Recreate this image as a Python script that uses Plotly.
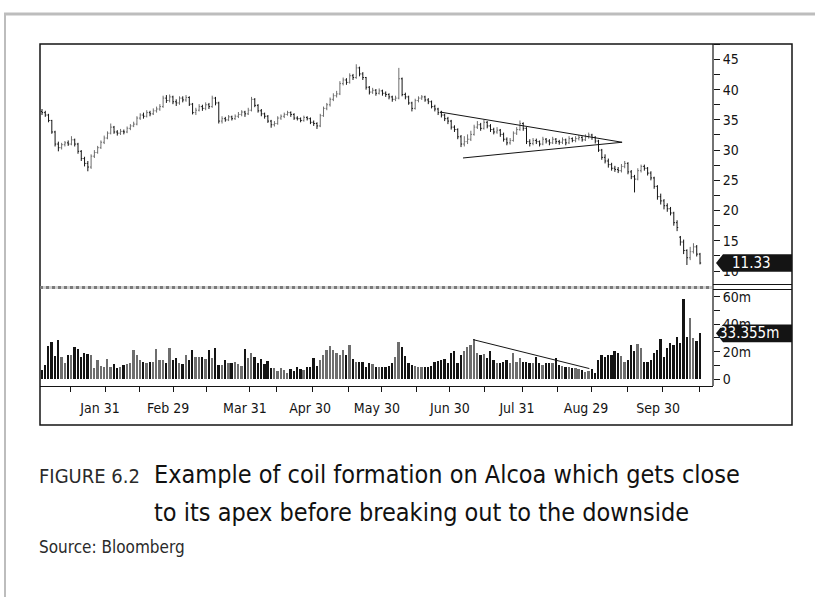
import plotly.graph_objects as go

# ---------------------------------------------------------------- data
# Daily bars, Alcoa (AA), first trading day of January to mid-October 2008
open_ = [36.4, 36.2, 35.8, 34.9, 33.0, 31.0, 30.4, 30.9, 31.2, 31.0,
         31.7, 31.0, 29.8, 28.6, 27.8, 27.2, 29.0, 29.6, 30.4, 31.3,
         32.0, 32.8, 33.8, 33.0, 32.8, 33.1, 33.0, 33.6, 34.0, 34.3,
         35.3, 35.8, 35.6, 36.2, 36.0, 36.5, 36.8, 37.2, 38.6, 38.2,
         38.8, 38.0, 37.8, 38.6, 38.3, 38.7, 37.6, 36.2, 36.6, 37.2,
         36.9, 37.5, 37.2, 38.6, 37.8, 34.8, 35.2, 35.0, 35.5, 35.2,
         35.6, 35.9, 36.3, 36.0, 36.6, 38.4, 37.4, 36.5, 36.0, 35.6,
         34.8, 34.2, 34.4, 35.3, 35.6, 35.9, 36.2, 35.9, 35.3, 35.2,
         34.9, 35.4, 35.2, 34.6, 34.4, 34.0, 35.7, 36.9, 37.5, 38.4,
         39.0, 39.3, 41.0, 41.6, 41.2, 42.3, 42.0, 43.6, 42.6, 42.0,
         40.4, 39.6, 39.9, 39.4, 39.8, 39.4, 39.2, 38.8, 38.4, 38.6,
         41.8, 39.2, 38.8, 37.8, 36.9, 38.2, 38.6, 38.8, 38.3, 38.0,
         37.2, 36.8, 36.2, 35.8, 35.2, 34.8, 33.8, 33.4, 32.2, 31.0,
         31.4, 31.8, 32.6, 33.8, 34.2, 33.6, 34.6, 34.0, 33.4, 33.0,
         33.3, 32.6, 31.8, 31.2, 31.6, 32.8, 33.4, 34.4, 33.6, 31.4,
         31.1, 31.6, 31.4, 31.0, 31.8, 31.5, 31.2, 31.8, 31.4, 31.3,
         31.7, 31.2, 31.9, 31.6, 31.9, 32.1, 31.7, 32.2, 32.5, 32.1,
         31.5, 30.0, 28.8, 28.2, 27.6, 27.0, 26.8, 26.6, 27.3, 27.8,
         26.4, 25.6, 25.2, 26.6, 27.3, 27.0, 26.2, 25.4, 24.0, 22.3,
         21.6, 20.8, 20.3, 19.6, 18.0, 15.6, 14.8, 13.4, 12.2, 13.2,
         14.0, 12.8]

high = [36.8, 36.5, 36.0, 35.0, 33.2, 31.4, 31.2, 31.5, 31.6, 32.3,
        31.9, 31.2, 30.0, 28.9, 28.2, 29.3, 30.0, 30.7, 31.6, 32.4,
        33.1, 34.4, 34.0, 33.3, 33.5, 33.4, 33.9, 34.3, 34.7, 35.6,
        36.1, 36.2, 36.6, 36.5, 36.9, 37.2, 37.6, 39.0, 39.1, 39.2,
        39.0, 38.4, 38.9, 38.9, 39.1, 38.9, 37.8, 37.0, 37.6, 37.5,
        37.9, 37.8, 39.0, 38.8, 38.0, 35.6, 35.5, 35.8, 35.7, 35.9,
        36.3, 36.6, 36.5, 37.0, 38.8, 38.6, 37.6, 36.8, 36.2, 35.8,
        35.0, 34.8, 35.6, 35.9, 36.2, 36.5, 36.4, 36.1, 35.6, 35.4,
        35.7, 35.6, 35.4, 34.9, 34.6, 36.0, 37.2, 37.8, 38.7, 39.4,
        39.8, 41.4, 42.0, 41.9, 42.7, 42.6, 44.2, 43.8, 42.9, 42.1,
        40.6, 40.3, 40.1, 40.2, 40.0, 39.7, 39.4, 39.0, 39.0, 43.6,
        42.0, 39.5, 39.0, 38.0, 38.5, 38.9, 39.1, 39.0, 38.6, 38.2,
        37.5, 37.0, 36.5, 36.0, 35.5, 35.0, 34.1, 33.6, 32.5, 32.3,
        32.6, 33.2, 34.2, 34.8, 34.5, 35.0, 34.8, 34.3, 33.7, 33.8,
        33.5, 32.9, 32.1, 32.0, 33.1, 33.8, 34.9, 34.6, 33.8, 31.8,
        32.0, 31.9, 31.6, 32.2, 32.0, 31.8, 32.2, 32.0, 31.7, 32.1,
        31.9, 32.3, 32.1, 32.3, 32.5, 32.3, 32.6, 32.9, 32.7, 32.3,
        31.7, 30.2, 29.3, 28.6, 27.9, 27.4, 27.2, 27.7, 28.2, 28.0,
        26.7, 25.9, 27.0, 27.6, 27.6, 27.2, 26.5, 25.6, 24.2, 22.8,
        21.9, 21.2, 20.6, 19.8, 18.4, 15.8, 15.2, 13.6, 14.0, 14.6,
        14.3, 13.0]

low = [35.8, 35.5, 34.6, 32.7, 30.6, 29.8, 30.1, 30.6, 30.7, 30.8,
       30.6, 29.4, 28.2, 27.3, 26.5, 26.9, 28.7, 29.4, 30.2, 31.0,
       31.8, 32.6, 32.7, 32.4, 32.5, 32.6, 32.8, 33.3, 33.8, 34.1,
       35.0, 35.2, 35.4, 35.6, 35.8, 36.2, 36.5, 37.0, 37.8, 37.9,
       37.6, 37.3, 37.5, 37.9, 38.0, 37.3, 35.9, 35.8, 36.4, 36.5,
       36.6, 36.8, 37.0, 37.4, 34.4, 34.4, 34.7, 34.8, 34.9, 35.0,
       35.3, 35.6, 35.5, 35.8, 36.4, 37.1, 36.2, 35.6, 35.2, 34.5,
       33.7, 33.9, 34.2, 35.0, 35.3, 35.7, 35.5, 35.0, 34.9, 34.6,
       34.7, 34.9, 34.3, 34.0, 33.5, 33.8, 35.5, 36.6, 37.2, 38.1,
       38.7, 39.1, 40.7, 40.8, 41.0, 41.6, 41.8, 42.2, 41.6, 40.0,
       39.2, 39.3, 39.0, 39.2, 39.0, 38.8, 38.4, 38.0, 38.1, 38.4,
       38.9, 38.4, 37.5, 36.4, 36.7, 37.9, 38.3, 38.0, 37.6, 36.9,
       36.4, 35.8, 35.4, 34.8, 34.3, 33.4, 33.0, 31.8, 30.5, 30.6,
       31.0, 31.5, 32.4, 33.5, 33.2, 33.4, 33.6, 33.0, 32.6, 32.7,
       32.2, 31.4, 30.8, 30.9, 31.4, 32.5, 33.2, 33.2, 31.0, 30.6,
       30.8, 31.0, 30.6, 30.8, 31.1, 30.8, 31.0, 31.0, 30.9, 31.0,
       30.8, 31.0, 31.3, 31.3, 31.6, 31.4, 31.5, 31.9, 31.7, 31.1,
       29.7, 28.4, 27.8, 27.1, 26.6, 26.4, 26.2, 26.3, 27.0, 26.0,
       25.2, 23.0, 25.0, 26.3, 26.6, 25.8, 25.0, 23.6, 21.8, 21.0,
       20.2, 19.8, 19.2, 17.5, 16.6, 14.2, 12.8, 11.0, 11.8, 12.9,
       12.4, 11.1]

close = [36.2, 35.8, 34.9, 33.0, 31.0, 30.4, 30.9, 31.2, 31.0, 31.7,
         31.0, 29.8, 28.6, 27.8, 27.2, 29.0, 29.6, 30.4, 31.3, 32.0,
         32.8, 33.8, 33.0, 32.8, 33.1, 33.0, 33.6, 34.0, 34.3, 35.3,
         35.8, 35.6, 36.2, 36.0, 36.5, 36.8, 37.2, 38.6, 38.2, 38.8,
         38.0, 37.8, 38.6, 38.3, 38.7, 37.6, 36.2, 36.6, 37.2, 36.9,
         37.5, 37.2, 38.6, 37.8, 34.8, 35.2, 35.0, 35.5, 35.2, 35.6,
         35.9, 36.3, 36.0, 36.6, 38.4, 37.4, 36.5, 36.0, 35.6, 34.8,
         34.2, 34.4, 35.3, 35.6, 35.9, 36.2, 35.9, 35.3, 35.2, 34.9,
         35.4, 35.2, 34.6, 34.4, 34.0, 35.7, 36.9, 37.5, 38.4, 39.0,
         39.3, 41.0, 41.6, 41.2, 42.3, 42.0, 43.6, 42.6, 42.0, 40.4,
         39.6, 39.9, 39.4, 39.8, 39.4, 39.2, 38.8, 38.4, 38.6, 41.8,
         39.2, 38.8, 37.8, 36.9, 38.2, 38.6, 38.8, 38.3, 38.0, 37.2,
         36.8, 36.2, 35.8, 35.2, 34.8, 33.8, 33.4, 32.2, 31.0, 31.4,
         31.8, 32.6, 33.8, 34.2, 33.6, 34.6, 34.0, 33.4, 33.0, 33.3,
         32.6, 31.8, 31.2, 31.6, 32.8, 33.4, 34.4, 33.6, 31.4, 31.1,
         31.6, 31.4, 31.0, 31.8, 31.5, 31.2, 31.8, 31.4, 31.3, 31.7,
         31.2, 31.9, 31.6, 31.9, 32.1, 31.7, 32.2, 32.5, 32.1, 31.5,
         30.0, 28.8, 28.2, 27.6, 27.0, 26.8, 26.6, 27.3, 27.8, 26.4,
         25.6, 25.2, 26.6, 27.3, 27.0, 26.2, 25.4, 24.0, 22.3, 21.6,
         20.8, 20.3, 19.6, 18.0, 17.2, 14.8, 13.4, 12.2, 13.2, 14.0,
         12.8, 11.33]

# Daily volume, millions of shares
volume = [6.8, 10.4, 24, 27.3, 17, 28.5, 16.5, 12, 17.6, 17.6,
          23.7, 22, 16.5, 19, 18.4, 17.6, 8, 14, 9.7, 8.7,
          14.8, 9.2, 11, 8, 9.2, 10.4, 11, 12, 21.3, 17.6,
          14, 12.8, 11.6, 12.8, 12.8, 22, 14, 14, 11.6, 22.5,
          14, 15.2, 11.6, 11, 17.6, 14, 21.3, 16.5, 16.5, 16,
          14.8, 21.3, 15.2, 22.5, 10.4, 10.4, 14, 12, 12, 12.5,
          11, 9.7, 22, 15.2, 19, 16.5, 12, 14.5, 11, 13.3,
          8, 8, 6.3, 8, 7.0, 4.8, 7.3, 6.3, 8.7, 7.3, 6.8,
          8.7, 8.7, 15.2, 9.7, 14, 17.6, 21.3, 24, 21.3, 19,
          17.6, 21.3, 17.6, 24.7, 14.5, 12.8, 12.8, 12.8, 9.2, 11.6,
          11, 9.2, 8.7, 9.2, 9.2, 9.7, 11.6, 16.5, 27.3, 23.7,
          17, 11.6, 10.4, 9.7, 8.7, 8.7,
          8.7, 9.2, 9.7, 12.8, 13.5, 14, 14.5, 12, 19, 20.2,
          11.6, 17.6, 20.2, 23.7, 24.7, 29, 19.4, 17.6, 18.4, 15.2,
          20.2, 14, 11.6, 11.6, 12.8, 14, 11.6, 19.4, 12.8, 15.2,
          12.8, 12.8, 12, 11.6, 16.5, 11.6, 10.4, 11.6, 11.6, 11.6, 15.2,
          10.4, 9.7, 9.2, 8.7, 8, 8, 7.3, 6.8, 5.6, 6.3,
          7.3, 4.8, 14, 17.6, 16.5, 17.6, 17.6, 20.8, 19, 17,
          12.8, 14, 24.7, 20.8, 25.6, 22.5, 12.8, 12.8, 14, 19,
          21.3, 29, 16.5, 22.5, 26, 24.7, 30.5, 26.6, 58, 30.5,
          44.3, 29.8, 28, 33.355]

session = list(range(len(close)))

# Coil (symmetrical triangle) boundaries, in (session, price)
coil_upper_x, coil_upper_y = [121.6, 177.2], [36.3, 31.3]
coil_lower_x, coil_lower_y = [128.6, 177.2], [28.7, 31.3]
# Declining volume line through the coil, (session, volume)
vol_line_x, vol_line_y = [131.7, 167.2], [28.8, 7.8]

# Date axis: label positions and tick-mark positions in session units
date_labels = ["Jan 31", "Feb 29", "Mar 31", "Apr 30", "May 30",
               "Jun 30", "Jul 31", "Aug 29", "Sep 30"]
date_label_pos = [17.7, 38.5, 62.0, 81.9, 102.3, 124.6, 145.1, 166.2, 188.2]
date_tick_pos = [8.7, 19.5, 29.9, 40.3, 50.4, 63.5, 71.5, 82.6, 93.5, 103.7,
                 114.4, 124.6, 135.2, 146.9, 157.4, 168.0, 178.7, 189.5, 200.7]

price_ticks = [10, 15, 20, 25, 30, 35, 40, 45]
vol_ticks = [0, 20, 40, 60]
vol_tick_text = ["0", "20m", "40m", "60m"]

last_price_text = "11.33"
last_volume_text = "33.355m"

# ---------------------------------------------------------------- layout geometry
W, H = 815, 597
ML, MR, MT, MB = 40, 102, 44, 211
PW, PH = W - ML - MR, H - MT - MB


def fx(px):
    """page pixel x -> paper x"""
    return (px - ML) / PW


def fy(py):
    """page pixel y -> paper y"""
    return (H - MB - py) / PH


FONT = "Liberation Sans Narrow, Arial Narrow, DejaVu Sans Condensed, sans-serif"
INK = "#141414"
UP_C, DOWN_C = "#6e6e6e", "#141414"

price_top_px, vol_top_px = 285, 290
X_RANGE = [-0.61, 204.97]
PRICE_RANGE = [7.69, 47.55]
VOL_RANGE = [-4.87, 64.85]

vol_colors = [UP_C if c >= o else DOWN_C for o, c in zip(open_, close)]

fig = go.Figure()

fig.add_trace(go.Ohlc(
    x=session, open=open_, high=high, low=low, close=close,
    increasing=dict(line=dict(color=UP_C, width=1)),
    decreasing=dict(line=dict(color=DOWN_C, width=1)),
    tickwidth=0.35, xaxis="x", yaxis="y", hoverinfo="skip",
))

fig.add_trace(go.Bar(
    x=session, y=volume, marker=dict(color=vol_colors, line=dict(width=0)),
    width=0.55, xaxis="x", yaxis="y2", hoverinfo="skip",
))

for xs, ys, ax in [(coil_upper_x, coil_upper_y, "y"),
                   (coil_lower_x, coil_lower_y, "y"),
                   (vol_line_x, vol_line_y, "y2")]:
    fig.add_trace(go.Scatter(x=xs, y=ys, mode="lines", yaxis=ax, xaxis="x",
                             line=dict(color=INK, width=1), hoverinfo="skip"))

shapes = []
# page frame (grey rule across the top and down the left)
shapes.append(dict(type="line", xref="paper", yref="paper",
                   x0=fx(4), x1=fx(815), y0=fy(14), y1=fy(14),
                   line=dict(color="#bdbdbd", width=3)))
shapes.append(dict(type="line", xref="paper", yref="paper",
                   x0=fx(5), x1=fx(5), y0=fy(14), y1=fy(597),
                   line=dict(color="#bdbdbd", width=2)))
# chart box
shapes.append(dict(type="rect", xref="paper", yref="paper",
                   x0=0, x1=fx(792), y0=fy(425), y1=1,
                   line=dict(color=INK, width=1.5)))
# value-axis spine
shapes.append(dict(type="line", xref="paper", yref="paper",
                   x0=1, x1=1, y0=0, y1=1, line=dict(color=INK, width=1.2)))
# panel separator: light band with a dotted texture, double rule under the scale
shapes.append(dict(type="line", xref="paper", yref="paper",
                   x0=0, x1=1, y0=fy(287.5), y1=fy(287.5),
                   line=dict(color="#cfcfcf", width=3)))
shapes.append(dict(type="line", xref="paper", yref="paper",
                   x0=0, x1=1, y0=fy(287.5), y1=fy(287.5),
                   line=dict(color="#7a7a7a", width=3, dash="dot")))
for yy in (284.5, 289.5):
    shapes.append(dict(type="line", xref="paper", yref="paper",
                       x0=1, x1=fx(792), y0=fy(yy), y1=fy(yy),
                       line=dict(color=INK, width=1.2)))


def tag(yref, value, half):
    tip, body, right = fx(716), fx(723), fx(792)
    return dict(type="path", xref="paper", yref=yref, layer="above",
                path=(f"M {tip},{value} L {body},{value + half} L {right},{value + half} "
                      f"L {right},{value - half} L {body},{value - half} Z"),
                fillcolor=INK, line=dict(color=INK, width=0))


shapes.append(tag("y", close[-1], 1.45))
shapes.append(tag("y2", volume[-1], 6.4))

annotations = [
    dict(xref="paper", yref="y", x=fx(751), y=close[-1], text=last_price_text,
         showarrow=False, xanchor="center", yanchor="middle",
         font=dict(family=FONT, size=15, color="white")),
    dict(xref="paper", yref="y2", x=fx(749), y=volume[-1], text=last_volume_text,
         showarrow=False, xanchor="center", yanchor="middle",
         font=dict(family=FONT, size=15, color="white")),
    dict(xref="paper", yref="paper", x=fx(37), y=fy(476), text="FIGURE 6.2",
         showarrow=False, xanchor="left", yanchor="middle",
         font=dict(family=FONT, size=20, color="#2a2a2a")),
    dict(xref="paper", yref="paper", x=fx(152), y=fy(474),
         text="Example of coil formation on Alcoa which gets close",
         showarrow=False, xanchor="left", yanchor="middle",
         font=dict(family=FONT, size=25, color="#111111")),
    dict(xref="paper", yref="paper", x=fx(152), y=fy(512),
         text="to its apex before breaking out to the downside",
         showarrow=False, xanchor="left", yanchor="middle",
         font=dict(family=FONT, size=25, color="#111111")),
    dict(xref="paper", yref="paper", x=fx(37), y=fy(547), text="Source: Bloomberg",
         showarrow=False, xanchor="left", yanchor="middle",
         font=dict(family=FONT, size=17, color="#2a2a2a")),
]

tick_font = dict(family=FONT, size=14, color=INK)

fig.update_layout(
    width=W, height=H,
    margin=dict(l=ML, r=MR, t=MT, b=MB),
    paper_bgcolor="white", plot_bgcolor="white",
    showlegend=False, bargap=0,
    shapes=shapes, annotations=annotations,
    xaxis=dict(
        range=X_RANGE, anchor="y2", domain=[0, 1],
        showgrid=False, zeroline=False, rangeslider=dict(visible=False),
        showline=True, linecolor=INK, linewidth=1.2,
        tickmode="array", tickvals=date_label_pos, ticktext=date_labels,
        ticks="", ticklabelstandoff=9, tickfont=tick_font,
        minor=dict(tickmode="array", tickvals=date_tick_pos, ticks="outside",
                   ticklen=5, tickwidth=1, tickcolor=INK, showgrid=False),
    ),
    yaxis=dict(
        range=PRICE_RANGE, domain=[fy(price_top_px), 1], side="right", anchor="x",
        showgrid=False, zeroline=False, showline=False,
        tickmode="array", tickvals=price_ticks, ticks="outside",
        ticklen=6, tickwidth=1, tickcolor=INK, tickfont=tick_font,
        minor=dict(dtick=2.5, tick0=0, ticks="outside", ticklen=6,
                   tickwidth=1, tickcolor=INK, showgrid=False),
    ),
    yaxis2=dict(
        range=VOL_RANGE, domain=[0, fy(vol_top_px)], side="right", anchor="x",
        showgrid=False, zeroline=False, showline=False,
        tickmode="array", tickvals=vol_ticks, ticktext=vol_tick_text,
        ticks="outside", ticklen=6, tickwidth=1, tickcolor=INK, tickfont=tick_font,
        minor=dict(dtick=10, tick0=0, ticks="outside", ticklen=6,
                   tickwidth=1, tickcolor=INK, showgrid=False),
    ),
)

fig.write_html("out.html")
